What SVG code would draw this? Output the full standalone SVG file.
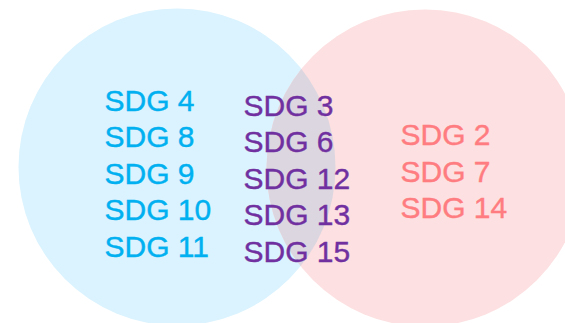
<svg xmlns="http://www.w3.org/2000/svg" width="565" height="323" viewBox="0 0 565 323">
  <style>
    text { font-family: "Liberation Sans", Arial, sans-serif; font-size: 30px; stroke-width: 0.4px; }
    .blue { fill: #00b0f0; stroke: #00b0f0; }
    .purple { fill: #7030a0; stroke: #7030a0; }
    .pink { fill: #ff7c80; stroke: #ff7c80; }
  </style>
  <defs>
    <clipPath id="clipLeft">
      <circle cx="177" cy="167" r="158.5"/>
    </clipPath>
  </defs>
  <g id="left-set">
    <circle cx="177" cy="167" r="158.5" fill="#daf3fe"/>
  </g>
  <g id="right-set">
    <circle cx="425" cy="168" r="158.5" fill="#fde0e1"/>
  </g>
  <g id="overlap">
    <circle cx="425" cy="168" r="158.5" fill="#dcd6e0" clip-path="url(#clipLeft)"/>
  </g>
  <g id="left-labels" class="blue">
    <text x="104.5" y="110.5">SDG 4</text>
    <text x="104.5" y="147">SDG 8</text>
    <text x="104.5" y="183.5">SDG 9</text>
    <text x="104.5" y="220">SDG 10</text>
    <text x="104.5" y="256.5">SDG 11</text>
  </g>
  <g id="middle-labels" class="purple">
    <text x="243.5" y="116">SDG 3</text>
    <text x="243.5" y="152">SDG 6</text>
    <text x="243.5" y="188.5">SDG 12</text>
    <text x="243.5" y="225">SDG 13</text>
    <text x="243.5" y="261.5">SDG 15</text>
  </g>
  <g id="right-labels" class="pink">
    <text x="400.5" y="145">SDG 2</text>
    <text x="400.5" y="181.5">SDG 7</text>
    <text x="400.5" y="218">SDG 14</text>
  </g>
</svg>
